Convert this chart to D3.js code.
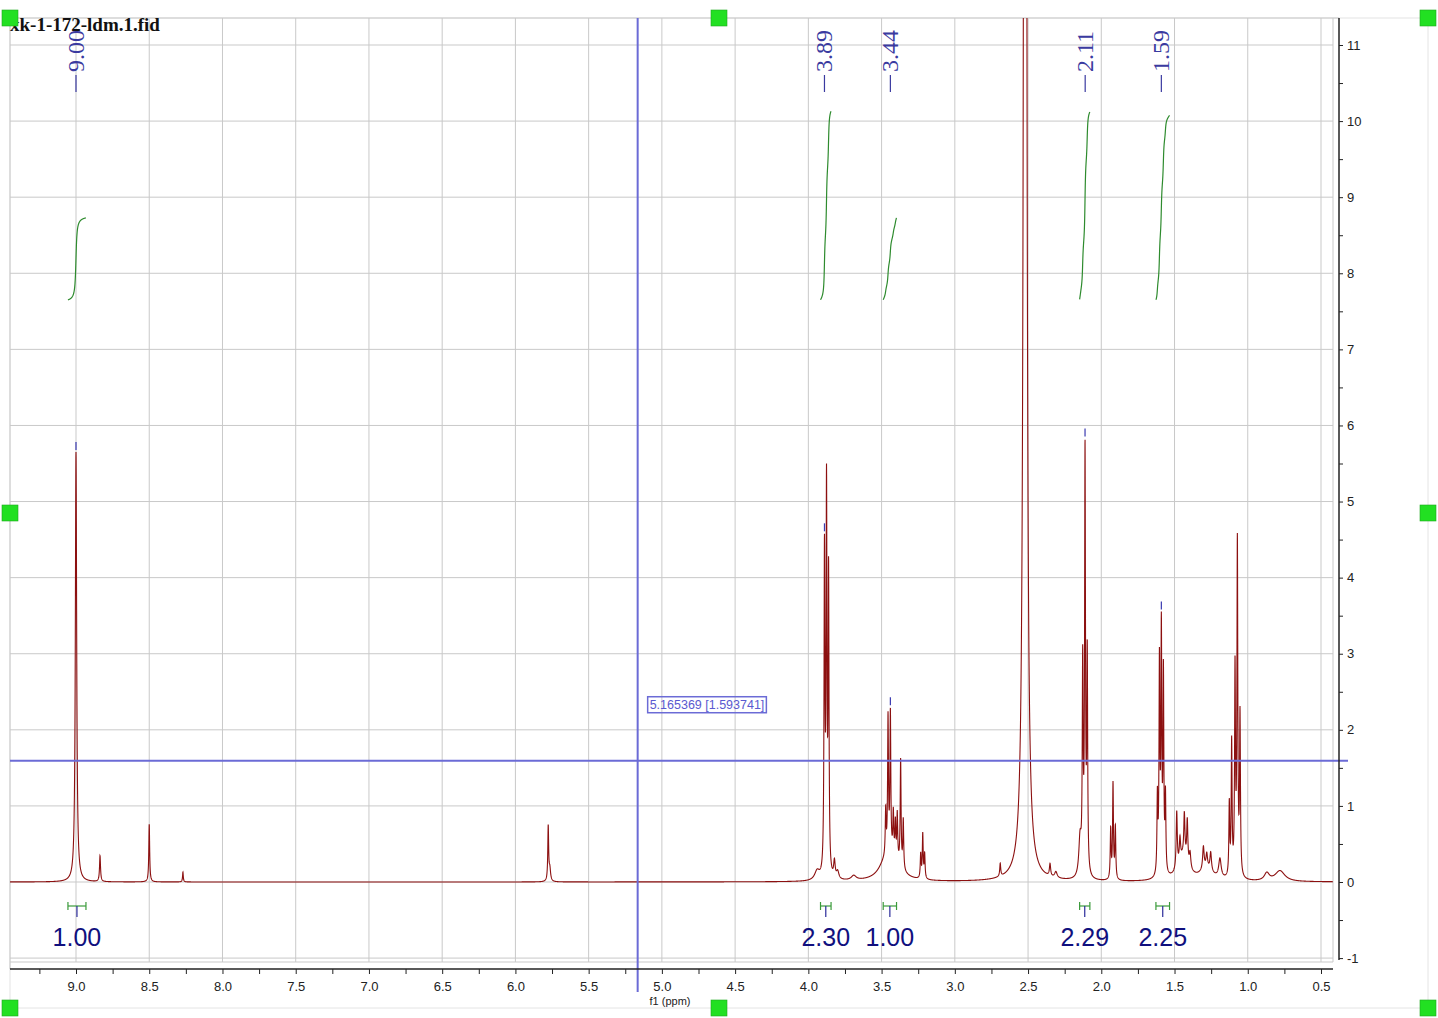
<!DOCTYPE html>
<html>
<head>
<meta charset="utf-8">
<title>xk-1-172-ldm.1.fid</title>
<script src="https://cdnjs.cloudflare.com/ajax/libs/d3/7.8.5/d3.min.js"></script>
<style>
  body { margin: 0; background: #fff; }
  svg { display: block; }
</style>
</head>
<body>
<svg id="nmr"></svg>
<script>
// tick labels
var xTickLabels = [9.0, 8.5, 8.0, 7.5, 7.0, 6.5, 6.0, 5.5, 5.0, 4.5, 4.0, 3.5, 3.0, 2.5, 2.0, 1.5, 1.0, 0.5];
var xMinorTicks = [9.25, 8.75, 8.25, 7.75, 7.25, 6.75, 6.25, 5.75, 5.25, 4.75, 4.25, 3.75, 3.25, 2.75, 2.25, 1.75, 1.25, 0.75];
var yTickLabels = [-1, 0, 1, 2, 3, 4, 5, 6, 7, 8, 9, 10, 11];
var yMinorTicks = [-0.5, 0.5, 1.5, 2.5, 3.5, 4.5, 5.5, 6.5, 7.5, 8.5, 9.5, 10.5];

// spectrum lines (ppm, height, half width in ppm)
var peakPpm = [9.000, 8.836, 8.500, 8.270, 5.776, 5.765,
  3.940, 3.890, 3.876, 3.862, 3.822, 3.800, 3.690, 3.480,
  3.472, 3.456, 3.440, 3.420, 3.406, 3.393, 3.370, 3.352, 3.420,
  3.233, 3.219, 3.206, 2.690, 2.520, 2.350, 2.310,
  2.145, 2.127, 2.111, 2.096, 1.936, 1.920, 1.904,
  1.617, 1.603, 1.590, 1.576, 1.562,
  1.485, 1.463, 1.433, 1.413, 1.394, 1.440,
  1.303, 1.280, 1.253, 1.190, 1.280,
  1.126, 1.110, 1.087, 1.071, 1.053, 0.870, 0.780];
var peakHeight = [5.65, 0.34, 0.76, 0.13, 0.72, 0.16,
  0.12, 4.2, 5.0, 3.9, 0.22, 0.10, 0.06, 0.16,
  0.6, 1.8, 1.85, 0.55, 0.45, 0.6, 1.4, 0.65, 0.25,
  0.32, 0.58, 0.32, 0.17, 60, 0.16, 0.08,
  0.5, 2.7, 5.5, 2.85, 0.65, 1.25, 0.68,
  1.0, 2.75, 3.15, 2.6, 1.0,
  0.75, 0.3, 0.55, 0.55, 0.2, 0.32,
  0.3, 0.18, 0.24, 0.25, 0.15,
  0.95, 1.75, 2.7, 4.35, 2.1, 0.1, 0.14];
var peakWidth = [0.0055, 0.004, 0.0035, 0.003, 0.0035, 0.006,
  0.02, 0.0035, 0.0035, 0.0035, 0.006, 0.01, 0.02, 0.05,
  0.0035, 0.0035, 0.0035, 0.0035, 0.0035, 0.0035, 0.0035, 0.0035, 0.06,
  0.0035, 0.0035, 0.0035, 0.004, 0.006, 0.005, 0.01,
  0.01, 0.0035, 0.0035, 0.0035, 0.0035, 0.0035, 0.0035,
  0.0035, 0.0035, 0.0035, 0.0035, 0.0035,
  0.0045, 0.005, 0.0045, 0.0045, 0.006, 0.04,
  0.006, 0.006, 0.006, 0.01, 0.05,
  0.0035, 0.0035, 0.0035, 0.0035, 0.0035, 0.02, 0.04];

// peak picking labels
var pickPpm = [9.00, 3.89, 3.44, 2.11, 1.59];
var pickLabels = ["9.00", "3.89", "3.44", "2.11", "1.59"];

// integrations
var intFrom = [9.055, 3.917, 3.489, 2.148, 1.627];
var intTo = [8.932, 3.845, 3.398, 2.078, 1.534];
var intValues = [1.00, 2.30, 1.00, 2.29, 2.25];

// cursor readout
var cursorPpm = 5.165369;
var cursorValue = 1.593741;
var title = "xk-1-172-ldm.1.fid";

var width = 1438, height = 1018;
var svg = d3.select("#nmr").attr("width", width).attr("height", height);

var x = d3.scaleLinear().domain([9.0, 0.5]).range([76, 1321]);
var y = d3.scaleLinear().domain([0, 11]).range([882, 45]);
var pl = 10, pr = 1333, pt = 18, pb = 962;

function intensity(p) {
  var s = 0;
  for (var i = 0; i < peakPpm.length; i++) {
    var d = (p - peakPpm[i]) / peakWidth[i];
    s += peakHeight[i] / (1 + d * d);
  }
  return s;
}

// outer selection box
svg.append("rect").attr("x", 10).attr("y", 18).attr("width", 1418).attr("height", 990)
  .attr("fill", "none").attr("stroke", "#e4e4e4").attr("stroke-width", 1);

// grid
var grid = svg.append("g").attr("stroke", "#c9c9c9").attr("stroke-width", 1);
grid.selectAll("line.v").data(xTickLabels).enter().append("line")
  .attr("x1", d => x(d)).attr("x2", d => x(d)).attr("y1", pt).attr("y2", pb);
grid.selectAll("line.h").data(yTickLabels).enter().append("line")
  .attr("x1", pl).attr("x2", pr).attr("y1", d => y(d)).attr("y2", d => y(d));
grid.append("line").attr("x1", pl).attr("x2", 1339).attr("y1", pt).attr("y2", pt);
grid.append("line").attr("x1", pl).attr("x2", pr).attr("y1", pb).attr("y2", pb);
grid.append("line").attr("x1", pl).attr("x2", pl).attr("y1", pt).attr("y2", 969);
grid.append("line").attr("x1", pr).attr("x2", pr).attr("y1", pt).attr("y2", pb);

// spectrum
svg.append("clipPath").attr("id", "clip").append("rect")
  .attr("x", pl).attr("y", pt).attr("width", pr - pl).attr("height", pb - pt);
var pts = [];
var pStart = x.invert(pl), pEnd = x.invert(pr);
for (var p = pStart; p >= pEnd; p -= 0.0006) pts.push([p, intensity(p)]);
var line = d3.line().x(d => x(d[0])).y(d => y(d[1]));
svg.append("path").datum(pts).attr("clip-path", "url(#clip)")
  .attr("d", line).attr("fill", "none").attr("stroke", "#8c1010").attr("stroke-width", 1.1);

// integral curves
var intBase = 7.65, intScale = 1.078;
intFrom.forEach(function(a, i) {
  var b = intTo[i], seg = [], acc = 0;
  for (var p = a; p >= b; p -= 0.0005) { acc += intensity(p); seg.push([p, acc]); }
  var total = acc;
  svg.append("path").datum(seg)
    .attr("d", d3.line().x(d => x(d[0])).y(d => y(intBase + d[1] / total * intValues[i] * intScale)))
    .attr("fill", "none").attr("stroke", "#2e8b2e").attr("stroke-width", 1.2);
  var xa = x(a), xb = x(b), xm = (xa + xb) / 2;
  var br = svg.append("g").attr("stroke", "#3a9a3a").attr("stroke-width", 1.2);
  br.append("line").attr("x1", xa).attr("x2", xb).attr("y1", 906).attr("y2", 906);
  br.append("line").attr("x1", xa).attr("x2", xa).attr("y1", 902).attr("y2", 910);
  br.append("line").attr("x1", xb).attr("x2", xb).attr("y1", 902).attr("y2", 910);
  svg.append("line").attr("x1", xm).attr("x2", xm).attr("y1", 906).attr("y2", 917)
    .attr("stroke", "#2b2b9a").attr("stroke-width", 1.2);
  svg.append("text").attr("x", xm).attr("y", 946).attr("text-anchor", "middle")
    .attr("font-family", "Liberation Sans, Arial, sans-serif").attr("font-size", 25)
    .attr("fill", "#10107e").text(intValues[i].toFixed(2));
});

// peak labels
pickPpm.forEach(function(p, i) {
  var px = x(p);
  svg.append("line").attr("x1", px).attr("x2", px).attr("y1", 92).attr("y2", 75)
    .attr("stroke", "#3a3aa0").attr("stroke-width", 1.2);
  svg.append("text").attr("transform", "translate(" + (px + 8) + ",72) rotate(-90)")
    .attr("font-family", "Liberation Serif, Times New Roman, serif").attr("font-size", 24)
    .attr("fill", "#3a3aa0").text(pickLabels[i]);
  // marker above the local maximum near the picked shift
  var best = p, bestV = intensity(p);
  for (var q = p - 0.006; q <= p + 0.006; q += 0.0002) {
    var v = intensity(q);
    if (v > bestV) { bestV = v; best = q; }
  }
  var mx = x(best), top = y(bestV);
  svg.append("line").attr("x1", mx).attr("x2", mx).attr("y1", top - 2).attr("y2", top - 10)
    .attr("stroke", "#3a3ab0").attr("stroke-width", 1.2);
});

// cursor
var cx = x(cursorPpm), cy = y(cursorValue);
svg.append("line").attr("x1", pl).attr("x2", 1348).attr("y1", cy).attr("y2", cy)
  .attr("stroke", "#6b6bd6").attr("stroke-width", 2);
svg.append("line").attr("x1", cx).attr("x2", cx).attr("y1", pt).attr("y2", 992)
  .attr("stroke", "#6b6bd6").attr("stroke-width", 2);
var ct = svg.append("text").attr("x", cx + 12).attr("y", cy - 52)
  .attr("font-family", "Liberation Sans, Arial, sans-serif").attr("font-size", 12.5)
  .attr("fill", "#5a5ad0").text(cursorPpm.toFixed(6) + " [" + cursorValue.toFixed(6) + "]");
var bb = ct.node().getBBox();
svg.append("rect").attr("x", bb.x - 2).attr("y", bb.y - 1).attr("width", bb.width + 4).attr("height", bb.height + 2)
  .attr("fill", "none").attr("stroke", "#6b6bd6").attr("stroke-width", 1.5);

// x axis
var xAxis = d3.axisBottom(x).tickValues(xTickLabels.concat(xMinorTicks))
  .tickSize(5).tickPadding(8).tickFormat(d => xTickLabels.indexOf(d) >= 0 ? d.toFixed(1) : "");
var gx = svg.append("g").attr("transform", "translate(0,969)").call(xAxis);
gx.select(".domain").remove();
gx.append("line").attr("x1", pl).attr("x2", pr).attr("stroke", "#222").attr("stroke-width", 1.5);
gx.selectAll("text").attr("font-family", "Liberation Sans, Arial, sans-serif").attr("font-size", 13).attr("fill", "#222");
gx.selectAll(".tick line").attr("stroke", "#222");
svg.append("text").attr("x", 670).attr("y", 1005).attr("text-anchor", "middle")
  .attr("font-family", "Liberation Sans, Arial, sans-serif").attr("font-size", 11).attr("fill", "#222")
  .text("f1 (ppm)");

// y axis (right)
var yAxis = d3.axisRight(y).tickValues(yTickLabels.concat(yMinorTicks))
  .tickSize(4).tickPadding(4).tickFormat(d => yTickLabels.indexOf(d) >= 0 ? d : "");
var gy = svg.append("g").attr("transform", "translate(1339,0)").call(yAxis);
gy.select(".domain").remove();
gy.append("line").attr("y1", pt).attr("y2", 960).attr("stroke", "#222").attr("stroke-width", 1.5);
gy.selectAll("text").attr("font-family", "Liberation Sans, Arial, sans-serif").attr("font-size", 13).attr("fill", "#222");
gy.selectAll(".tick line").attr("stroke", "#222");

// title
svg.append("text").attr("x", 10).attr("y", 31)
  .attr("font-family", "Liberation Serif, Times New Roman, serif").attr("font-size", 19)
  .attr("font-weight", "bold").attr("fill", "#111").text(title);

// selection handles
var handles = [[10, 18], [719, 18], [1428, 18], [10, 513], [1428, 513], [10, 1008], [719, 1008], [1428, 1008]];
svg.selectAll("rect.handle").data(handles).enter().append("rect")
  .attr("x", d => d[0] - 8).attr("y", d => d[1] - 8).attr("width", 16).attr("height", 16)
  .attr("fill", "#22e022").attr("stroke", "#1ea81e").attr("stroke-width", 0.6);
</script>
</body>
</html>
